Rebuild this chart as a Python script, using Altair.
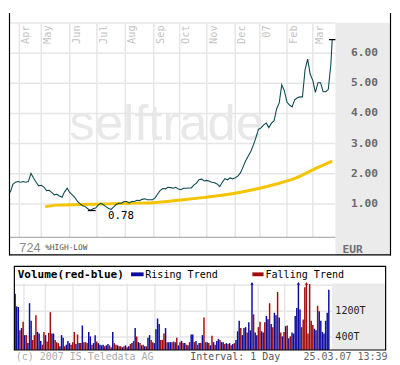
import altair as alt
import pandas as pd
import numpy as np

# ---------------- data ----------------
price_sessions = list(range(1, 250, 2)) + [250]
prices = [1.38, 1.65, 1.72, 1.74, 1.72, 1.74, 1.72, 1.74, 2.01, 1.86,
          1.72, 1.60, 1.62, 1.56, 1.44, 1.45, 1.38, 1.30, 1.32, 1.26,
          1.22, 1.40, 1.52, 1.38, 1.30, 1.21, 1.08, 1.00, 0.94, 0.91,
          0.84, 0.78, 0.84, 0.86, 0.96, 1.02, 0.97, 0.91, 0.85, 0.82,
          0.90, 0.98, 1.02, 1.02, 1.08, 1.08, 1.03, 1.08, 1.08, 1.12,
          1.11, 1.15, 1.17, 1.14, 1.14, 1.14, 1.20, 1.33, 1.45, 1.51,
          1.50, 1.55, 1.54, 1.52, 1.55, 1.49, 1.47, 1.52, 1.52, 1.53,
          1.53, 1.62, 1.69, 1.80, 1.82, 1.76, 1.78, 1.75, 1.72, 1.70,
          1.66, 1.57, 1.72, 1.84, 1.80, 1.86, 1.83, 1.87, 1.92, 2.03,
          2.22, 2.42, 2.58, 2.74, 2.95, 3.20, 3.48, 3.52, 3.62, 3.68,
          3.53, 3.68, 3.75, 4.15, 4.35, 4.95, 4.75, 4.38, 4.28, 4.22,
          4.45, 4.52, 4.55, 4.55, 5.45, 5.80, 5.30, 5.10, 4.70, 5.02,
          5.02, 4.72, 4.72, 4.80, 5.65, 6.45]

ma_sessions = [28, 37, 56, 74, 93, 111, 133, 148, 163, 178, 193, 207, 222, 237, 250]
ma_values = [0.91, 0.96, 0.98, 1.00, 1.02, 1.04, 1.13, 1.20, 1.28, 1.38, 1.51, 1.66, 1.86, 2.17, 2.42]

month_sessions = [8, 25, 47, 68, 90, 112, 132, 153, 175, 194, 215, 235]
month_labels = ["Apr", "May", "Jun", "Jul", "Aug", "Sep", "Oct", "Nov", "Dec", "07", "Feb", "Mar"]

price_ticks = [1, 2, 3, 4, 5, 6]
price_tick_labels = ["1.00", "2.00", "3.00", "4.00", "5.00", "6.00"]
price_grid = [1, 2, 3, 4, 5, 6, 7]

low_session, low_price, low_label = 64, 0.78, "0.78"
high_session, high_price = 250, 6.45

volumes = [1743, 1348, 1329, 607, 677, 874, 459, 459, 212, 1447,
           904, 311, 459, 1072, 558, 509, 281, 163, 558, 459,
           262, 528, 1170, 509, 509, 311, 242, 212, 114, 459,
           380, 114, 163, 281, 212, 163, 242, 558, 183, 479,
           212, 212, 756, 242, 242, 212, 558, 420, 163, 212,
           459, 262, 212, 163, 143, 163, 114, 143, 183, 143,
           84, 558, 212, 163, 143, 114, 114, 84, 114, 143,
           84, 114, 183, 212, 281, 677, 420, 242, 212, 143,
           163, 114, 114, 380, 459, 311, 242, 212, 637, 973,
           805, 311, 311, 509, 677, 242, 242, 242, 242, 262,
           242, 380, 143, 242, 281, 212, 212, 163, 143, 242,
           479, 479, 242, 281, 163, 212, 212, 459, 1003, 242,
           242, 212, 143, 440, 242, 163, 281, 341, 311, 242,
           242, 183, 212, 183, 212, 143, 183, 212, 311, 578,
           904, 677, 459, 677, 706, 539, 854, 607, 2300, 1101,
           539, 459, 706, 874, 578, 539, 854, 1052, 953, 1447,
           805, 706, 1151, 1072, 1793, 1003, 539, 420, 558, 736,
           756, 360, 420, 539, 509, 1052, 1299, 2300, 1250, 706,
           943, 1941, 2300, 509, 2040, 904, 775, 657, 607, 1368,
           1200, 904, 558, 509, 904, 1151, 1861]
trend_codes = ("BBBRBRBRBB" "BRRRBBBRRB" "RRRBBRRRBB" "BRBBBRRRBR" "BRBRRRBBRB"
               "BRBBBBRBBR" "RBRRBRRBRB" "RBRBRBRBRB" "RBRBBRRBBB" "BRRRBRBBRR"
               "BRBRBRBRBR" "BBRBRBRBRR" "BRBRBRBBRB" "BRBRBRBRBB" "BRBBBRBBBR"
               "BBRRBBRBBR" "BRBBRBRBRB" "RBRBBBBBBR" "RRRRRRRBBR" "BBBBBBB")
vol_ticks = [400, 1200]
vol_tick_labels = ["400T", "1200T"]
vol_grid = [400, 1200, 2000]

# ---------------- layout constants ----------------
W = 391
TOP_H = 248
BOT_H = 99
XMAX = 295.5          # sessions across the whole panel
PLOT_END = 252.5      # end of the white plotting area
P_MIN, P_MAX = -0.709, 7.33
P_BOTTOM, P_TOP = -0.108, 7.01
V_MIN, V_MAX = -400, 2593
V_TOP = 2059

BLUE, RED = "#0c0ca2", "#a20c0c"
GRID = "#e6e6e6"
MONO = "DejaVu Sans Mono"

XS = alt.Scale(domain=[0, XMAX], nice=False, zero=False)
YT = alt.Scale(domain=[P_MIN, P_MAX], nice=False, zero=False)
YB = alt.Scale(domain=[V_MIN, V_MAX], nice=False, zero=False)


def X(f):
    return alt.X(f"{f}:Q", scale=XS, axis=None)


def Y(f, ys):
    return alt.Y(f"{f}:Q", scale=ys, axis=None)


def one(**kw):
    return pd.DataFrame({k: [v] for k, v in kw.items()})


def text_layer(df, ys, **mark):
    return alt.Chart(df).mark_text(**mark).encode(x=X("x"), y=Y("y", ys), text="t:N")


# ---------------- top (price) panel ----------------
price_df = pd.DataFrame({"s": price_sessions, "p": prices})
ma_df = pd.DataFrame({"s": ma_sessions, "p": ma_values})

t_grey = alt.Chart(one(x=PLOT_END, x2=XMAX, y=P_MIN, y2=P_TOP)).mark_rect(color="#ebebeb").encode(
    x=X("x"), x2="x2", y=Y("y", YT), y2="y2")
t_vgrid = alt.Chart(pd.DataFrame({"x": month_sessions, "y": P_BOTTOM, "y2": P_TOP})).mark_rule(
    color=GRID, strokeWidth=1.5).encode(x=X("x"), y=Y("y", YT), y2="y2")
t_hgrid = alt.Chart(pd.DataFrame({"y": price_grid, "x": 0, "x2": PLOT_END})).mark_rule(
    color=GRID, strokeWidth=1.5).encode(x=X("x"), x2="x2", y=Y("y", YT))
t_base = alt.Chart(one(x=0, x2=PLOT_END, y=P_BOTTOM)).mark_rule(color="#9a9a9a", strokeWidth=1).encode(
    x=X("x"), x2="x2", y=Y("y", YT))
t_wm = text_layer(one(x=122, y=3.12, t="selftrade"), YT, font="Liberation Sans", fontSize=52,
                  color="#e8e8e8", align="center", baseline="alphabetic")
t_ma = alt.Chart(ma_df).mark_line(color="#f5c400", strokeWidth=3, interpolate="monotone").encode(
    x=X("s"), y=Y("p", YT))
t_price = alt.Chart(price_df).mark_line(color="#0b4a52", strokeWidth=1.1).encode(
    x=X("s"), y=Y("p", YT))
t_low = alt.Chart(one(x=low_session - 3, x2=low_session + 3, y=low_price)).mark_rule(
    color="black", strokeWidth=1.3).encode(x=X("x"), x2="x2", y=Y("y", YT))
t_high = alt.Chart(one(x=high_session - 2.5, x2=high_session + 2.5, y=high_price)).mark_rule(
    color="black", strokeWidth=1.3).encode(x=X("x"), x2="x2", y=Y("y", YT))
t_lowlab = text_layer(one(x=low_session, y=low_price, t=low_label), YT, font=MONO, fontSize=11,
                      color="black", align="center", baseline="middle", dx=30, dy=6)
t_months = text_layer(pd.DataFrame({"x": month_sessions, "y": 6.92, "t": month_labels}), YT,
                      font=MONO, fontSize=10.5, color="#c4c4c4", angle=270, align="right",
                      baseline="middle", dy=7)
t_ticks = text_layer(pd.DataFrame({"x": 275, "y": price_ticks, "t": price_tick_labels}), YT,
                     font=MONO, fontSize=11.5, fontWeight="bold", color="#6a6a6a",
                     align="center", baseline="middle")
t_eur = text_layer(one(x=258, y=-0.52, t="EUR"), YT, font=MONO, fontSize=11.5, fontWeight="bold",
                   color="#707070", align="left", baseline="middle")
t_724 = text_layer(one(x=8, y=-0.456, t="724"), YT, font="Liberation Sans", fontSize=13,
                   color="#8a8a8a", align="left", baseline="middle")
t_hl = text_layer(one(x=28, y=-0.47, t="%HIGH-LOW"), YT, font=MONO, fontSize=8,
                  color="#555555", align="left", baseline="middle")
t_border_v = alt.Chart(pd.DataFrame({"x": [0.4, XMAX - 0.4], "y": P_MIN, "y2": P_MAX})).mark_rule(
    color="black", strokeWidth=1.2).encode(x=X("x"), y=Y("y", YT), y2="y2")
t_border_h = alt.Chart(one(x=0, x2=XMAX, y=P_MIN + 0.02)).mark_rule(
    color="black", strokeWidth=1.2).encode(x=X("x"), x2="x2", y=Y("y", YT))

top = alt.layer(t_grey, t_vgrid, t_hgrid, t_base, t_wm, t_ma, t_price, t_low, t_high, t_lowlab,
                t_months, t_ticks, t_eur, t_724, t_hl, t_border_v, t_border_h).properties(
    width=W, height=TOP_H)

# ---------------- bottom (volume) panel ----------------
n = len(volumes)
vol_df = pd.DataFrame({
    "s": np.linspace(1, 250, n),
    "v": volumes,
    "trend": ["Rising" if c == "B" else "Falling" for c in trend_codes],
})
vol_df["vc"] = vol_df["v"].clip(upper=V_TOP)
vol_df["zero"] = 0
color_enc = alt.Color("trend:N", scale=alt.Scale(domain=["Rising", "Falling"], range=[BLUE, RED]),
                      legend=None)

b_grey = alt.Chart(one(x=PLOT_END, x2=XMAX, y=0, y2=V_TOP)).mark_rect(color="#ebebeb").encode(
    x=X("x"), x2="x2", y=Y("y", YB), y2="y2")
b_vgrid = alt.Chart(pd.DataFrame({"x": month_sessions, "y": 0, "y2": V_TOP})).mark_rule(
    color=GRID, strokeWidth=1.5).encode(x=X("x"), y=Y("y", YB), y2="y2")
b_hgrid = alt.Chart(pd.DataFrame({"y": vol_grid, "x": 0, "x2": PLOT_END})).mark_rule(
    color=GRID, strokeWidth=1.5).encode(x=X("x"), x2="x2", y=Y("y", YB))
b_bars = alt.Chart(vol_df).mark_bar(size=1.5).encode(
    x=X("s"), y=Y("vc", YB), y2="zero", color=color_enc)
b_arrows = alt.Chart(vol_df[vol_df["v"] > V_TOP]).mark_point(
    shape="triangle-up", filled=True, size=10, opacity=1, dy=-1).encode(
    x=X("s"), y=Y("vc", YB), color=color_enc)
b_title = text_layer(one(x=3, y=2326, t="Volume(red-blue)"), YB, font=MONO, fontSize=11.3,
                     fontWeight="bold", color="black", align="left", baseline="middle")
b_sw = alt.Chart(pd.DataFrame({"x": [93, 189.3], "x2": [103, 198.2], "y": 2281, "y2": 2400,
                               "trend": ["Rising", "Falling"]})).mark_rect().encode(
    x=X("x"), x2="x2", y=Y("y", YB), y2="y2", color=color_enc)
b_leg = text_layer(pd.DataFrame({"x": [104.3, 199.7], "y": 2326,
                                 "t": ["Rising Trend", "Falling Trend"]}), YB,
                   font=MONO, fontSize=10.3, color="black", align="left", baseline="middle")
b_ticks = text_layer(pd.DataFrame({"x": 255.2, "y": vol_ticks, "t": vol_tick_labels}), YB,
                     font=MONO, fontSize=10.3, color="#222222", align="left", baseline="middle")
b_foot = alt.Chart(pd.DataFrame({"x": [1.5, 140, 230], "y": -222,
                                 "t": ["(c) 2007 IS.Teledata AG", "Interval: 1 Day", "25.03.07 13:39"],
                                 "c": ["#aaaaaa", "#555555", "#666666"]})).mark_text(
    font=MONO, fontSize=10.2, align="left", baseline="middle").encode(
    x=X("x"), y=Y("y", YB), text="t:N", color=alt.Color("c:N", scale=None))
b_border_v = alt.Chart(pd.DataFrame({"x": [0.4, XMAX - 0.4], "y": 0, "y2": V_MAX})).mark_rule(
    color="black", strokeWidth=1.2).encode(x=X("x"), y=Y("y", YB), y2="y2")
b_border_h = alt.Chart(pd.DataFrame({"y": [V_MAX - 8, 0], "x": 0, "x2": XMAX})).mark_rule(
    color="black", strokeWidth=1.2).encode(x=X("x"), x2="x2", y=Y("y", YB))

bottom = alt.layer(b_grey, b_vgrid, b_hgrid, b_bars, b_arrows, b_title, b_sw, b_leg, b_ticks,
                   b_foot, b_border_v, b_border_h).properties(width=W, height=BOT_H)

chart = alt.vconcat(top, bottom, spacing=9).resolve_scale(
    x="independent", y="independent", color="independent").configure_view(stroke=None).properties(
    padding=0, background="white")

chart.save("out.html", embed_options={"renderer": "svg", "actions": False})
